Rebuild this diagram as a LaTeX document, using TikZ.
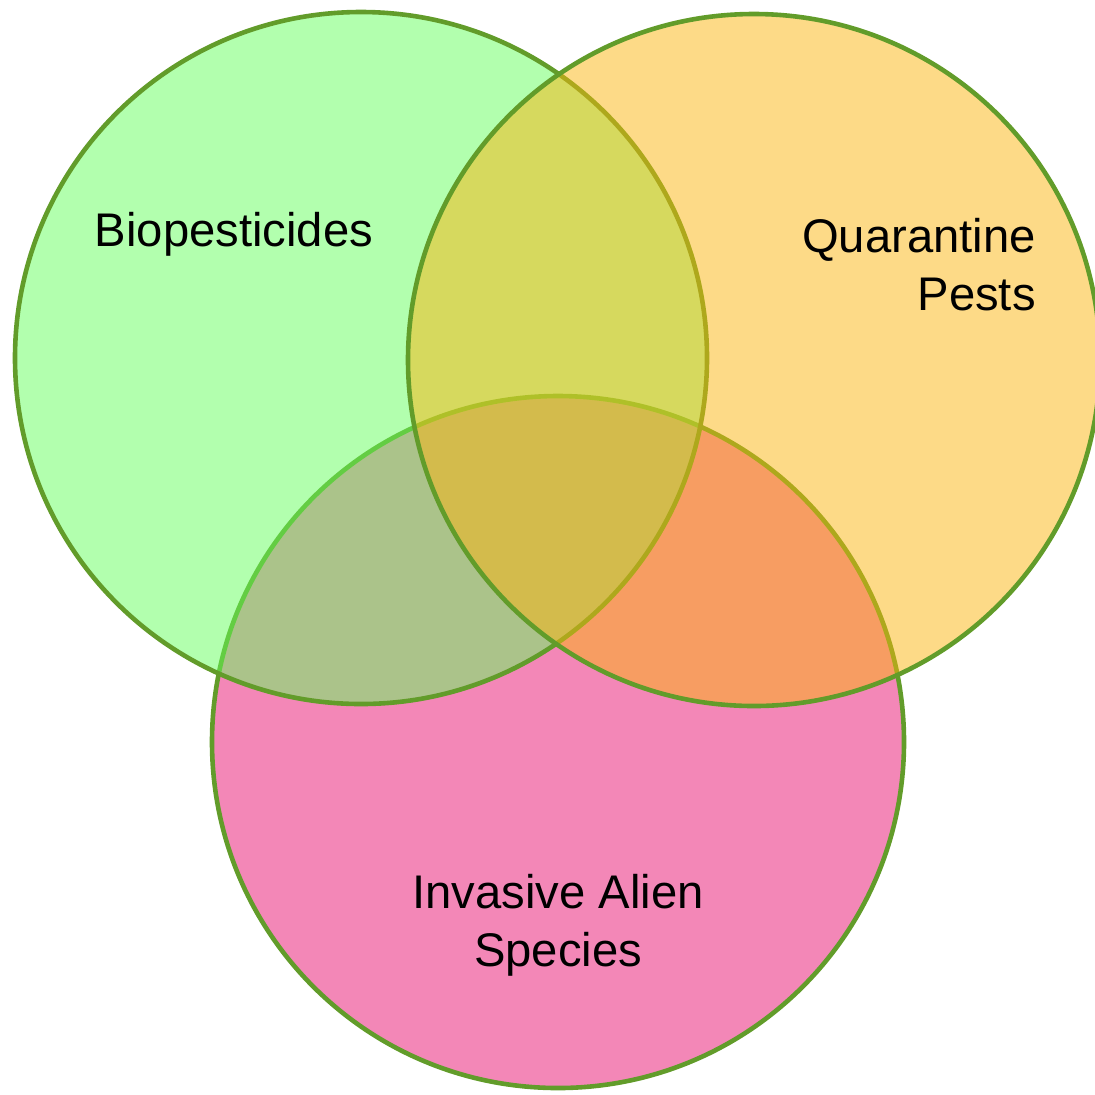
\documentclass[tikz,border=0pt]{standalone}
\usepackage{fontspec}
\setmainfont{Liberation Sans}
\usepackage{tikz}
\definecolor{biogreen}{RGB}{101,255,93}
\definecolor{quarorange}{RGB}{251,181,15}
\definecolor{alienpink}{RGB}{231,15,111}
\definecolor{rimgreen}{RGB}{98,156,42}
\usetikzlibrary{shapes}

\begin{document}
\begin{tikzpicture}[set/.style={circle, draw=rimgreen, line width=2.3pt, fill opacity=0.5, draw opacity=1, minimum size=346pt, inner sep=0pt},
				x=0.5pt, y=-0.5pt,
				lbl/.style={font=\fontsize{23.6}{29}\selectfont, inner sep=0pt}]
				%Bildbereich
				\useasboundingbox (0,0) rectangle (1095,1094);
				% Mengen zeichnen
				\node[set, fill=alienpink] (alien) at (558,742) {};
				\node[set, fill=biogreen] (bio) at (361,358) {};
				\node[set, fill=quarorange] (quar) at (754,360) {};
				% Beschriftung (base = letzte Zeile)
				\node[lbl, anchor=base] (biotxt) at (234,246) {Biopesticides};
				\node[lbl, anchor=base east, align=right] (quartxt) at (1036,310) {Quarantine\\Pests};
				\node[lbl, anchor=base, align=center] (alientxt) at (558,966) {Invasive Alien\\Species};
			\end{tikzpicture}
\end{document}
